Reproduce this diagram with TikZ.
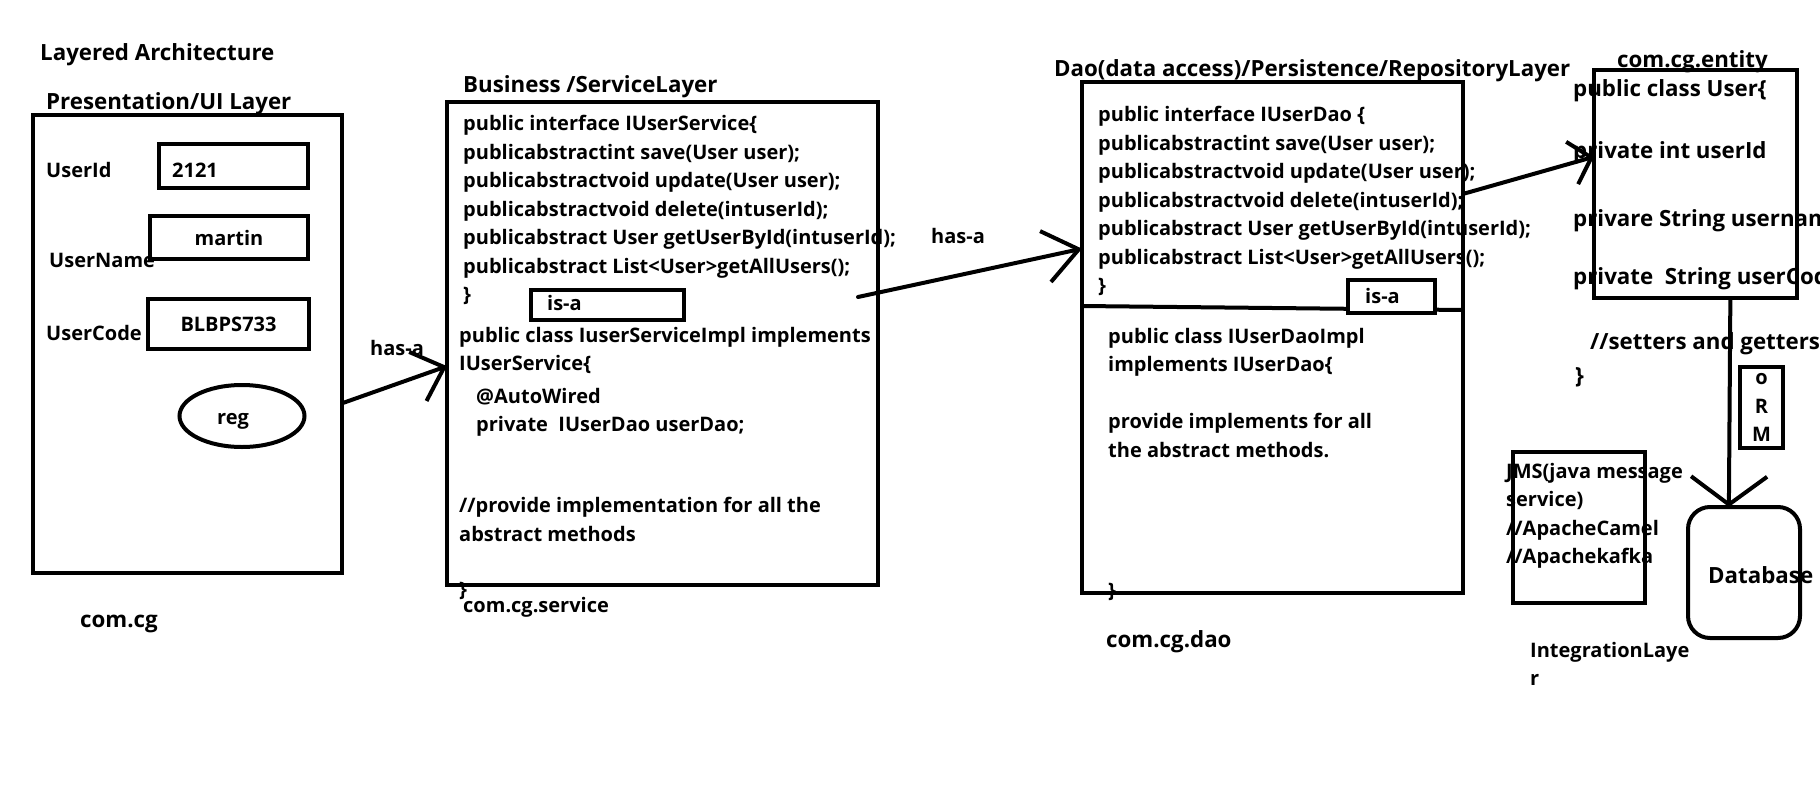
\documentclass[tikz,border=0pt]{standalone}
\usepackage{fontspec}
\setmainfont{Open Sans}
\usetikzlibrary{arrows.meta,shapes.geometric}

\tikzset{
	box/.style = {draw, line width = 4pt, inner sep = 0pt, outer sep = 0pt, anchor = north west},
	txt/.style = {anchor = north west, inner sep = 0pt, align = left},
	head/.style = {txt, font = \bfseries\fontsize{22.3}{28}\selectfont},
	link/.style = {line width = 4pt, line cap = round},
}

\begin{document}
\begin{tikzpicture}[x = 1pt, y = -1pt, every node/.style = {font = \bfseries\fontsize{20}{28.5}\selectfont}]

\fill[white] (0,0) rectangle (1820,800);
\useasboundingbox (0,0) rectangle (1820,800);

\node[head] (title) at (40,43) {Layered Architecture};
\node[head] (uihead) at (46,92) {Presentation/UI Layer};
\node[box, minimum width = 309pt, minimum height = 458pt] (ui) at (33,115) {};

\node[txt] (uidlbl) at (46,162) {UserId};
\node[box, minimum width = 149pt, minimum height = 44pt] (uidbox) at (159,144) {};
\node[txt] (uidval) at (172,163) {2121};
\node[txt] (unamelbl) at (49,253) {UserName};
\node[box, minimum width = 158pt, minimum height = 43pt] (unamebox) at (150,216) {martin};
\node[txt] (ucodelbl) at (46,325) {UserCode};
\node[box, minimum width = 161pt, minimum height = 50pt] (ucodebox) at (148,299) {BLBPS733};
\node[draw, ellipse, line width = 4pt, inner sep = 0pt, outer sep = 0pt,
	minimum width = 125pt, minimum height = 62pt] (reg) at (242,416) {};
\node (regtext) at (233,421) {reg};
\node[head] (uipkg) at (80,615) {com.cg};

\node[head] (svchead) at (463,75) {Business /ServiceLayer};
\node[txt] (svcif) at (463,115) {public interface IUserService\{\\publicabstractint save(User user);\\publicabstractvoid update(User user);\\publicabstractvoid delete(intuserId);\\publicabstract User getUserById(intuserId);\\publicabstract List<User>getAllUsers();\\\}};
\node[box, minimum width = 153pt, minimum height = 30pt] (svcisabox) at (531,290) {};
\node[txt] (svcisa) at (547,295) {is-a};
\node[txt] (svcimpl) at (459,327) {public class IuserServiceImpl implements\\IUserService\{};
\node[txt] (svcfield) at (476,388) {@AutoWired\\private\ \ IUserDao userDao;};
\node[txt] (svcnote) at (459,497) {//provide implementation for all the\\abstract methods};
\node[txt] (svcend) at (459,582) {\}};
\node[txt] (svcpkg) at (463,597) {com.cg.service};
\node[box, minimum width = 431pt, minimum height = 483pt] (svc) at (447,102) {};

\node[head] (daohead) at (1054,59) {Dao(data access)/Persistence/RepositoryLayer};
\node[txt] (daoif) at (1098,106) {public interface IUserDao \{\\publicabstractint save(User user);\\publicabstractvoid update(User user);\\publicabstractvoid delete(intuserId);\\publicabstract User getUserById(intuserId);\\publicabstract List<User>getAllUsers();\\\}};
\draw[line width = 4pt] (1082,306) -- (1463,310);
\node[box, fill = white, minimum width = 87pt, minimum height = 33pt] (daoisabox) at (1348,280) {};
\node[txt] (daoisa) at (1365,288) {is-a};
\node[txt] (daoimpl) at (1108,328) {public class IUserDaoImpl\\implements IUserDao\{};
\node[txt] (daonote) at (1108,413) {provide implements for all\\the abstract methods.};
\node[txt] (daoend) at (1108,583) {\}};
\node[head] (daopkg) at (1106,630) {com.cg.dao};
\node[box, minimum width = 381pt, minimum height = 511pt] (dao) at (1082,82) {};

\node[head] (userhead) at (1617,50) {com.cg.entity};
\node[head] (userclass) at (1573,79) {public class User\{};
\node[head] (userid) at (1573,141) {private int userId};
\node[head] (username) at (1573,209) {privare String username};
\node[head] (usercode) at (1573,267) {private\ \ String userCode};
\node[head] (usermeth) at (1590,332) {//setters and getters};
\node[head] (userend) at (1575,367) {\}};
\node[box, minimum width = 203pt, minimum height = 228pt] (user) at (1594,70) {};

\node[box, minimum width = 43pt, minimum height = 81pt, align = center] (orm) at (1740,367) {o\\R\\M};
\node[box, minimum width = 132pt, minimum height = 151pt] (jms) at (1513,452) {};
\node[txt] (jmstext) at (1506,463) {JMS(java message\\service)\\//ApacheCamel\\//Apachekafka};
\node[txt] (integ) at (1530,642) {IntegrationLaye\\r};
\node[box, rounded corners = 22pt, minimum width = 112pt, minimum height = 131pt] (db) at (1688,507) {};
\node[head] (dbtext) at (1708,566) {Database};

\node[txt] (hasaui) at (370,340) {has-a};
\node[txt] (hasasvc) at (931,228) {has-a};
\coordinate (svcout) at (858,297);

\draw[link, -{Straight Barb[length = 28pt, width = 52pt]}] (ui.-21) -- (svc.186);
\draw[link, -{Straight Barb[length = 34pt, width = 52pt]}] (svcout) -- (dao.155);
\draw[link, -{Straight Barb[length = 20pt, width = 44pt]}] (dao.37) -- (user.165);
\draw[link, -{Straight Barb[length = 28pt, width = 76pt]}] (user.-73) -- (db.103);

\end{tikzpicture}
\end{document}
